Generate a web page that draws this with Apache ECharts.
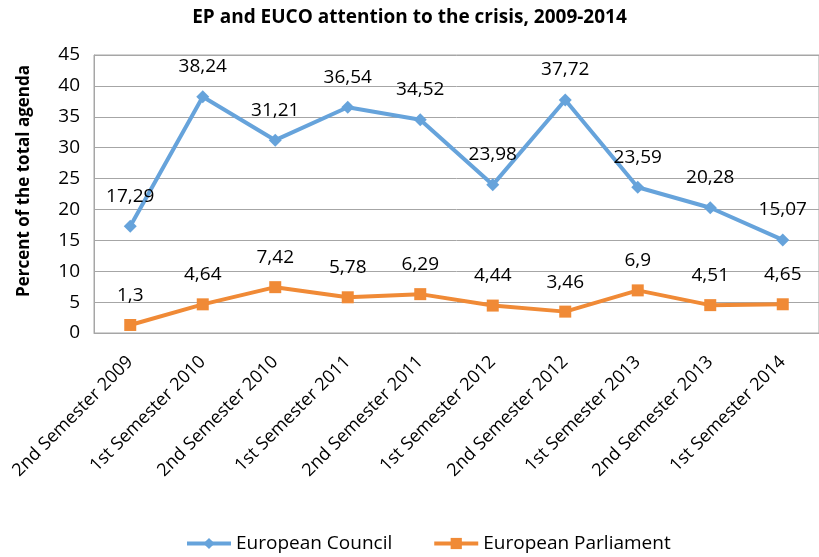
<!DOCTYPE html>
<html><head><meta charset="utf-8">
<script src="https://cdn.jsdelivr.net/npm/echarts@6/dist/echarts.min.js"></script>
<style>html,body{margin:0;padding:0;background:#fff}#c{width:819px;height:557px}</style>
</head><body><div id="c"></div>
<script>
const categories = ["2nd Semester 2009","1st Semester 2010","2nd Semester 2010","1st Semester 2011","2nd Semester 2011","1st Semester 2012","2nd Semester 2012","1st Semester 2013","2nd Semester 2013","1st Semester 2014"];
const councilValues = [17.29,38.24,31.21,36.54,34.52,23.98,37.72,23.59,20.28,15.07];
const parliamentValues = [1.3,4.64,7.42,5.78,6.29,4.44,3.46,6.9,4.51,4.65];
const yTicks = {min:0, max:45, interval:5};
const font = "'Open Sans', 'Liberation Sans', sans-serif";
const fmt = p => String(p.value).replace('.', ',');
const chart = echarts.init(document.getElementById('c'));
chart.setOption({
  animation:false,
  title:{text:'EP and EUCO attention to the crisis, 2009-2014', left:'center', top:3,
    textStyle:{fontFamily:font, fontSize:19, fontWeight:'bold', color:'#000'}},
  legend:{bottom:-1, left:180, itemWidth:44, itemHeight:14, itemGap:40,
    lineStyle:{width:4},
    textStyle:{fontFamily:font, fontSize:19, color:'#000'},
    data:['European Council','European Parliament']},
  grid:{left:94, right:-4, top:55, bottom:224, show:true, borderColor:'#a6a6a6', borderWidth:1},
  xAxis:{type:'category', data:categories, boundaryGap:true,
    axisLine:{lineStyle:{color:'#a6a6a6'}}, axisTick:{show:false},
    axisLabel:{rotate:45, interval:0, fontFamily:font, fontSize:18, color:'#000', margin:26}},
  yAxis:{type:'value', min:yTicks.min, max:yTicks.max, interval:yTicks.interval,
    name:'Percent of the total agenda', nameLocation:'middle', nameGap:61,
    nameTextStyle:{fontFamily:font, fontSize:17, fontWeight:'bold', color:'#000', padding:[0,0,0,26]},
    axisLine:{show:true, lineStyle:{color:'#a6a6a6'}},
    splitLine:{lineStyle:{color:'#a6a6a6'}},
    axisLabel:{fontFamily:font, fontSize:19, color:'#000', margin:14}},
  series:[
    {name:'European Council', type:'line', data:councilValues, symbol:'diamond', symbolSize:13,
      itemStyle:{color:'#66A3DB'}, lineStyle:{width:4, color:'#66A3DB'},
      label:{show:true, position:'top', distance:14, formatter:fmt, fontFamily:font, fontSize:19, color:'#000'}},
    {name:'European Parliament', type:'line', data:parliamentValues, symbol:'rect', symbolSize:12,
      itemStyle:{color:'#F08A36'}, lineStyle:{width:4, color:'#F08A36'},
      label:{show:true, position:'top', distance:14, formatter:fmt, fontFamily:font, fontSize:19, color:'#000'}}
  ]
});
</script></body></html>
